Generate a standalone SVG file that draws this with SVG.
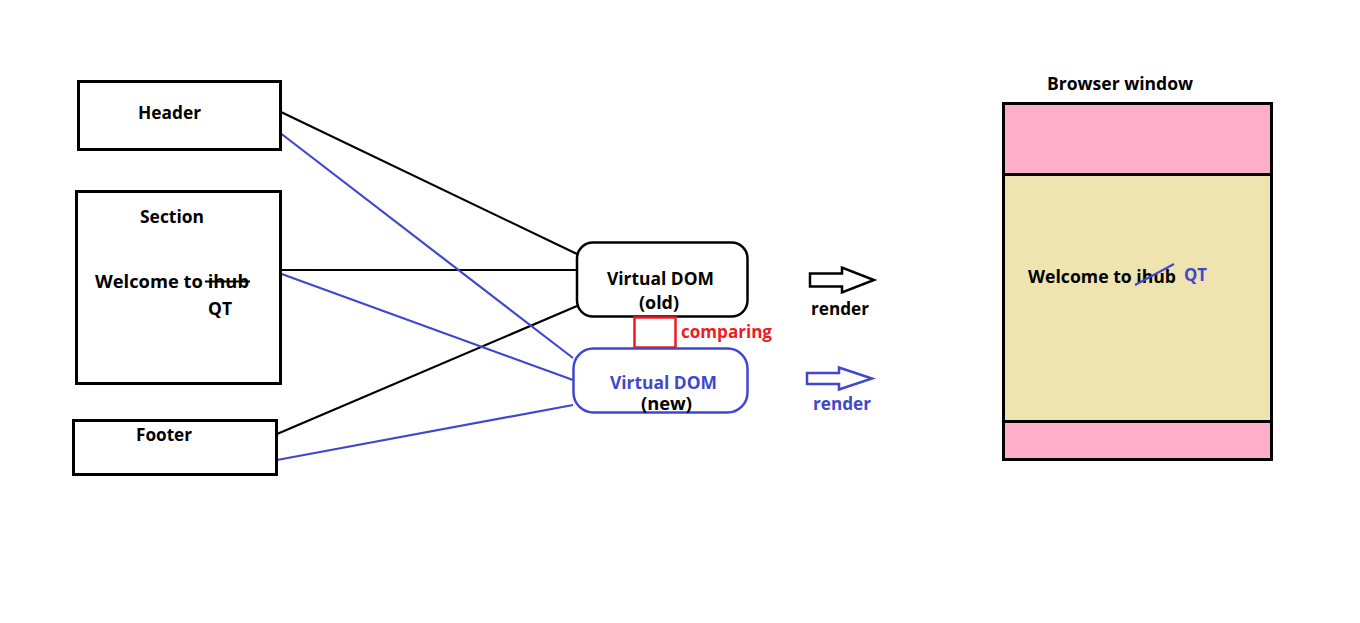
<svg xmlns="http://www.w3.org/2000/svg" width="1360" height="623" viewBox="0 0 1360 623">
<style>
.t{font-family:"Open Sans","Liberation Sans",sans-serif;font-weight:bold;font-size:17px;fill:#000}
.b{fill:#3F48CC}
.r{fill:#ED1C24}
.box{fill:#fff;stroke:#000;stroke-width:3}
.k{stroke:#000;stroke-width:2.2;fill:none}
.bl{stroke:#3F48CC;stroke-width:2.2;fill:none}
</style>
<rect width="1360" height="623" fill="#fff"/>
<g id="connectors">
<line class="k" x1="281" y1="112" x2="577" y2="254"/>
<line class="k" x1="281" y1="270" x2="577" y2="270"/>
<line class="k" x1="277" y1="434" x2="577" y2="306"/>
<line class="bl" x1="279" y1="132" x2="573" y2="358"/>
<line class="bl" x1="279" y1="273" x2="573" y2="380"/>
<line class="bl" x1="277" y1="460" x2="573" y2="405"/>
</g>
<g id="header">
<rect class="box" x="78.5" y="81.5" width="202" height="68"/>
<text class="t" x="138" y="119" textLength="63" lengthAdjust="spacingAndGlyphs">Header</text>
</g>
<g id="section">
<rect class="box" x="76.5" y="191.5" width="204" height="192"/>
<text class="t" x="140" y="223" textLength="64" lengthAdjust="spacingAndGlyphs">Section</text>
<text class="t" x="95" y="288" textLength="154" lengthAdjust="spacingAndGlyphs">Welcome to ihub</text>
<line x1="205" y1="281.5" x2="250" y2="281.5" stroke="#000" stroke-width="2"/>
<text class="t" x="208" y="315" textLength="24" lengthAdjust="spacingAndGlyphs">QT</text>
</g>
<g id="footer">
<rect class="box" x="73.5" y="420.5" width="203" height="54"/>
<text class="t" x="136" y="441" textLength="56" lengthAdjust="spacingAndGlyphs">Footer</text>
</g>
<g id="vdom-old">
<rect x="577" y="242.5" width="170.5" height="74" rx="16" fill="#fff" stroke="#000" stroke-width="2.5"/>
<text class="t" x="607" y="285" textLength="107" lengthAdjust="spacingAndGlyphs">Virtual DOM</text>
<text class="t" x="639" y="309" textLength="40" lengthAdjust="spacingAndGlyphs">(old)</text>
</g>
<g id="comparing">
<rect x="634.5" y="317.5" width="41" height="30" fill="#fff" stroke="#ED1C24" stroke-width="2.5"/>
<text class="t r" x="681" y="338" textLength="91" lengthAdjust="spacingAndGlyphs">comparing</text>
</g>
<g id="vdom-new">
<rect x="573.5" y="348.5" width="174" height="64" rx="20" fill="#fff" stroke="#3F48CC" stroke-width="2.5"/>
<text class="t b" x="610" y="389" textLength="107" lengthAdjust="spacingAndGlyphs">Virtual DOM</text>
<text class="t" x="641" y="410" textLength="51" lengthAdjust="spacingAndGlyphs">(new)</text>
</g>
<g id="render-old">
<polygon points="810,273.5 842,273.5 842,267.5 874,280 842,292.5 842,286.5 810,286.5" fill="#fff" stroke="#000" stroke-width="2.5"/>
<text class="t" x="811" y="315" textLength="58" lengthAdjust="spacingAndGlyphs">render</text>
</g>
<g id="render-new">
<polygon points="807,373 839,373 839,367.5 872,378.5 839,389.5 839,384 807,384" fill="#fff" stroke="#3F48CC" stroke-width="2.5"/>
<text class="t b" x="813" y="410" textLength="58" lengthAdjust="spacingAndGlyphs">render</text>
</g>
<g id="browser-window">
<text class="t" x="1047" y="90" textLength="146" lengthAdjust="spacingAndGlyphs">Browser window</text>
<rect x="1003.5" y="103.5" width="268" height="71" fill="#FFAEC9" stroke="#000" stroke-width="3"/>
<rect x="1003.5" y="174.5" width="268" height="247" fill="#EFE4B0" stroke="#000" stroke-width="3"/>
<rect x="1003.5" y="421.5" width="268" height="38" fill="#FFAEC9" stroke="#000" stroke-width="3"/>
<text class="t" x="1028" y="283" textLength="148" lengthAdjust="spacingAndGlyphs">Welcome to ihub</text>
<line x1="1135" y1="285" x2="1174" y2="264" stroke="#3F48CC" stroke-width="2"/>
<text class="t b" x="1184" y="281" textLength="23" lengthAdjust="spacingAndGlyphs">QT</text>
</g>
</svg>
